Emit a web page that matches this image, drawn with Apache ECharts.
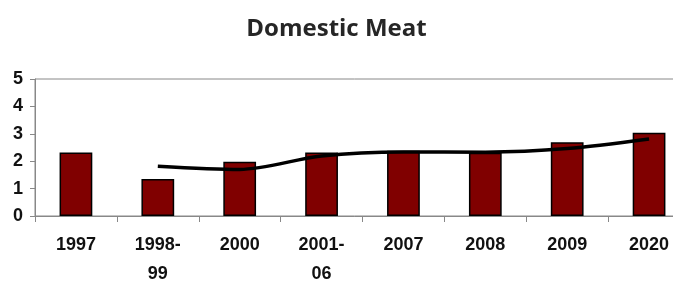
<!DOCTYPE html>
<html>
<head>
<meta charset="utf-8">
<script src="https://cdn.jsdelivr.net/npm/echarts@6/dist/echarts.min.js"></script>
<style>
  html, body { margin: 0; padding: 0; background: #fff; }
  #chart { width: 673px; height: 284px; }
</style>
</head>
<body>
<div id="chart"></div>
<script>
var years = ['1997', '1998-\n99', '2000', '2001-\n06', '2007', '2008', '2009', '2020'];
var barValues = [2.32, 1.35, 1.98, 2.32, 2.38, 2.31, 2.69, 3.04];
var lineValues = ['-', 1.82, 1.70, 2.19, 2.34, 2.33, 2.46, 2.81];

var myChart = echarts.init(document.getElementById('chart'));
var option = {
  animation: false,
  title: {
    text: 'Domestic Meat',
    left: 'center',
    top: 12,
    textStyle: {
      fontFamily: 'Open Sans',
      fontWeight: 'bold',
      fontSize: 24,
      color: '#262626'
    }
  },
  grid: {
    left: 35,
    top: 79,
    bottom: 68,
    width: 655,
    outerBoundsMode: 'none',
    containLabel: false,
    show: true,
    borderColor: '#888',
    borderWidth: 1
  },
  xAxis: {
    type: 'category',
    data: years,
    axisLine: { lineStyle: { color: '#888', width: 1 } },
    axisTick: { show: true, length: 6, lineStyle: { color: '#888' } },
    axisLabel: {
      color: '#111',
      fontFamily: 'Liberation Sans',
      fontWeight: 'bold',
      fontSize: 18,
      lineHeight: 29,
      margin: 15
    }
  },
  yAxis: {
    type: 'value',
    min: 0,
    max: 5,
    interval: 1,
    splitLine: { show: false },
    axisLine: { show: true, lineStyle: { color: '#888', width: 1 } },
    axisTick: { show: true, length: 5, lineStyle: { color: '#888' } },
    axisLabel: {
      color: '#111',
      fontFamily: 'Liberation Sans',
      fontWeight: 'bold',
      fontSize: 18,
      margin: 12
    }
  },
  series: [
    {
      type: 'bar',
      data: barValues,
      barWidth: '40%',
      itemStyle: {
        color: '#800000',
        borderColor: '#000',
        borderWidth: 1.5
      }
    },
    {
      type: 'line',
      data: lineValues,
      smooth: 0.3,
      symbol: 'none',
      lineStyle: { color: '#000', width: 3.5 }
    }
  ]
};
myChart.setOption(option);
</script>
</body>
</html>
